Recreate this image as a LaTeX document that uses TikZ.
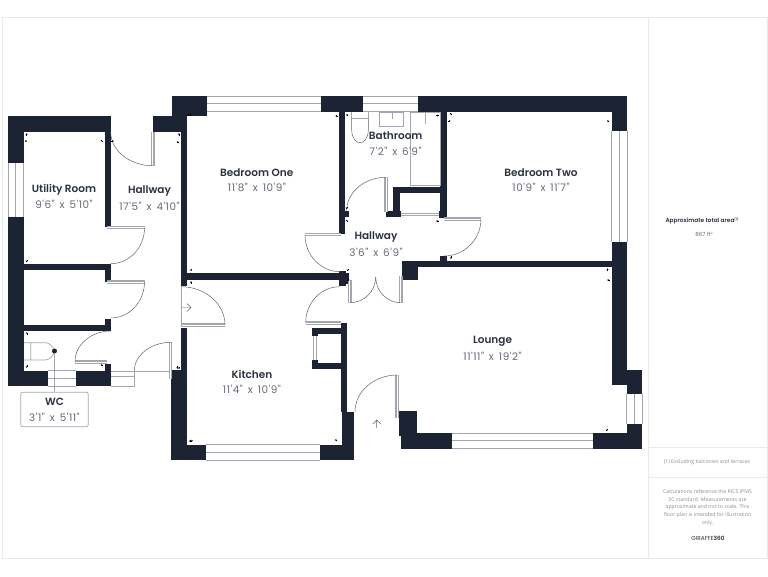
\documentclass[tikz,border=0pt]{standalone}
\usepackage{fontspec}
\newfontfamily\popr{Poppins}
\newfontfamily\popm{Poppins SemiBold}
\newfontfamily\popd{Poppins}[LetterSpace=5,WordSpace=1.5]
\newfontfamily\opens{Open Sans}
\definecolor{wallc}{HTML}{1C2433}
\definecolor{linec}{HTML}{A3A7AD}
\definecolor{framec}{HTML}{E9EAEC}
\definecolor{namec}{HTML}{2A3140}
\definecolor{dimc}{HTML}{636A77}
\definecolor{notec}{HTML}{8A8F98}
\tikzset{
  wallfill/.style={fill=wallc},
  gline/.style={draw=linec,line width=.7pt},
  leaf/.style={draw=linec,line width=1.6pt,double=white,double distance=.6pt,line cap=butt},
  swing/.style={draw=wallc!70,line width=.5pt},
  frameline/.style={draw=framec,line width=.8pt},
  roomname/.style={font=\popm\fontsize{10.5}{12}\selectfont,text=namec,inner sep=0pt,anchor=center,yshift=-.4pt},
  roomdim/.style={font=\popd\fontsize{10.4}{12}\selectfont,text=dimc,inner sep=0pt,anchor=center,yshift=-.8pt},
  note/.style={font=\opens\fontsize{5.2}{7.6}\selectfont,text=notec,align=center,inner sep=0pt,anchor=center}
}
\newcommand\wl[4]{\fill[wallfill] (#1,#2) rectangle (#3,#4);}
\newcommand\winh[3]{\fill[white] (#1,#2) rectangle (#3,#2+15.5);\draw[gline] (#1,#2) -- (#3,#2) (#1,#2+7.5) -- (#3,#2+7.5) (#1,#2+15.5) -- (#3,#2+15.5);}
\newcommand\winv[3]{\fill[white] (#2,#1) rectangle (#2+15.5,#3);\draw[gline] (#2,#1) -- (#2,#3) (#2+7.5,#1) -- (#2+7.5,#3) (#2+15.5,#1) -- (#2+15.5,#3);}
\newcommand\sw[4]{\pgfmathsetmacro\cy{#2+.55*(#4-#2)}\pgfmathsetmacro\cx{#3-.55*(#3-#1)}\draw[swing] (#1,#2) .. controls (#1,\cy) and (\cx,#4) .. (#3,#4);}
\newcommand\tk[3]{\fill[black,shift={(#1,#2)},rotate=#3] (-1,.3) -- (0,-1.2) -- (1,.3) -- cycle;\draw[black,line width=.3pt,shift={(#1,#2)},rotate=#3] (0,0) -- (0,1.4);}
\begin{document}
\begin{tikzpicture}[x=1pt,y=-1pt]
\useasboundingbox (0,0) rectangle (768,576);
\fill[white] (0,0) rectangle (768,576);
% frame
\draw[frameline] (2,17) -- (767,17) -- (767,558) -- (2,558) -- cycle;
\draw[frameline] (648.5,17) -- (648.5,558) (648.5,447) -- (767,447) (648.5,477) -- (767,477);
% walls: utility block
\wl{8}{116}{110.7}{132}
\wl{8}{132}{24}{163}
\winv{163}{8}{217}
\wl{8}{217}{24}{386}
\wl{104.5}{132}{110.7}{227}
\wl{24}{263.7}{110.7}{270}
\wl{104.5}{263.7}{110.7}{281.7}
\wl{24}{325}{110.7}{331}
\wl{104.5}{318.5}{110.7}{331}
\wl{104.5}{364}{110.7}{386}
\wl{24}{370.7}{47.5}{386}
\winh{47.5}{370.7}{75.5}
\wl{75.5}{370.7}{110.7}{386}
\fill[white] (110.7,371) rectangle (134,386);
\draw[gline] (110.7,371.5) -- (171,371.5) (110.7,376.7) -- (134,376.7) (110.7,386) -- (134,386) -- (134,371.5);
% hallway / bedroom one
\wl{153}{116}{186.5}{132}
\wl{172}{96}{207}{116}
\wl{180.7}{132}{186.5}{286}
\winh{207}{96}{320.7}
\wl{320.7}{96}{363}{111.7}
\winh{363}{96}{418.3}
\wl{418.3}{96}{627}{111.7}
\wl{611.7}{111.7}{627}{130.7}
\winv{130.7}{611.7}{241.7}
\wl{611.7}{241.7}{627}{385}
\wl{611.7}{370}{642}{385}
\wl{626.7}{385}{642}{393.5}
\winv{393.5}{626.7}{423.5}
\wl{626.7}{423.5}{642}{448.7}
\wl{180.7}{272.7}{345.7}{280}
\wl{339}{111.7}{345}{233.5}
\wl{339}{210.7}{349}{216.7}
\wl{339}{271}{345.7}{286}
\wl{345}{273}{348.5}{284}
% bathroom
\wl{440}{111.7}{446.7}{218.3}
\wl{438.7}{210.7}{446.7}{218.3}
\wl{393.3}{186.7}{440}{192.7}
\wl{393.3}{186.7}{400}{217}
\wl{386}{211}{401}{217.3}
\wl{440}{255.7}{446.7}{261}
% lounge
\wl{402}{261}{627}{266.7}
\wl{402}{261}{418.3}{280}
\wl{399}{411}{417}{433.3}
\wl{401.3}{433.3}{452}{448.7}
\winh{452}{433.3}{593}
\wl{593}{433.3}{642}{448.7}
\wl{399}{433.3}{417}{436}
% kitchen
\wl{180.7}{327.7}{186.5}{370}
\wl{171}{370}{186.5}{460}
\wl{186.5}{444.5}{205.5}{460}
\winh{205.5}{444.5}{320}
\wl{320}{444.5}{354}{460}
\wl{340.7}{323}{346.5}{412}
\wl{342}{411.7}{354}{444.5}
\wl{311.7}{327.5}{340.7}{334}
\wl{311.7}{327.5}{318}{336}
\wl{311.7}{362.7}{340.7}{369}
\wl{311.7}{360}{318}{369}
\draw[gline] (313.3,336) -- (313.3,360) (316.5,336) -- (316.5,360);
% door leaves
\draw[leaf] (152.7,132) -- (152.7,165.7);
\draw[leaf] (107,227.5) -- (144.5,227.5);
\draw[leaf] (107,282) -- (144.5,282);
\draw[leaf] (75,362) -- (107,362);
\draw[leaf] (170.5,342.3) -- (170.5,379);
\draw[leaf] (181,325) -- (225,325);
\draw[leaf] (305.7,323) -- (341,323);
\draw[leaf] (305,234.5) -- (341,234.5);
\draw[leaf] (386,177.3) -- (386,212);
\draw[leaf] (444,219) -- (481,219);
\draw[leaf] (349.7,280) -- (349.7,303);
\draw[leaf] (400.7,276) -- (400.7,303);
\draw[leaf] (397.3,375) -- (397.3,418);
\draw[leaf] (401,214.5) -- (439,214.5);
% swings
\sw{110.7}{132}{152.7}{165.7}
\sw{144.5}{228}{110.7}{263.7}
\sw{144.5}{282}{110.7}{318}
\sw{75}{361.7}{110.7}{331}
\sw{134.3}{371}{171}{342.3}
\sw{225}{325}{181}{286.7}
\sw{305.7}{322.7}{339.5}{286.7}
\sw{305}{235}{340}{271.7}
\sw{346.7}{210.7}{386}{177.3}
\sw{481}{219}{444}{256}
\sw{375.7}{277}{350}{302.7}
\sw{375.7}{277}{400.7}{302.7}
\sw{355}{411.7}{397.3}{375}
% thresholds
\draw[gline] (181,286) -- (181,327);
% arrows
\draw[swing,line width=.45pt] (181,307.5) -- (191,307.5) (187,303.5) -- (191,307.5) -- (187,311.5);
\draw[swing,line width=.45pt] (376.7,428) -- (376.7,420) (372.7,424) -- (376.7,420) -- (380.7,424);
% fittings
\draw[gline] (410,112) rectangle (440,185.7) (425,112) -- (425,124);
\draw[gline,line width=1.1pt] (379.8,112) rectangle (403.6,126.3);
\draw[gline] (392,112) -- (392,119);
\draw[gline] (351.7,111.7) -- (351.7,118.7) -- (368.3,118.7) -- (368.3,111.7);
\draw[swing] (351.7,118.7) -- (351.7,130) .. controls (351.7,138) and (356,142.7) .. (360,142.7) .. controls (364,142.7) and (368.3,138) .. (368.3,130) -- (368.3,118.7);
\draw[gline] (24,342.7) -- (45,342.7) .. controls (50,342.7) and (53,347) .. (54.5,351) .. controls (53,356) and (50,360) .. (45,360) -- (24,360) (30.7,342.7) -- (30.7,360);
% ticks
\tk{26.5}{134.5}{0}\tk{26}{141}{270}\tk{101.7}{140.7}{90}\tk{112.7}{141}{270}
\tk{179}{134.3}{0}\tk{177.7}{142}{90}\tk{188.3}{115}{270}\tk{190.5}{114.5}{0}
\tk{26.7}{261}{180}\tk{26.7}{333.3}{0}\tk{26.7}{366.7}{180}\tk{101.7}{365}{90}\tk{179}{368}{180}
\tk{336.5}{116}{90}\tk{191}{270}{180}\tk{191}{282.3}{0}\tk{346.7}{208}{180}\tk{346.7}{220.7}{0}
\tk{347.7}{270}{180}\tk{348.5}{280}{270}\tk{347}{115}{0}\tk{437.3}{115.5}{90}\tk{450.7}{114}{0}\tk{449.3}{121}{270}
\tk{437.3}{221}{90}\tk{451}{257.7}{180}\tk{191.7}{440.7}{270}\tk{190}{441}{180}\tk{336}{440}{90}\tk{177.3}{367.7}{180}
\tk{608}{121}{90}\tk{607.5}{269.5}{0}\tk{608.3}{280}{90}\tk{606.7}{430}{180}
% labels
\node[roomname] (uname) at (64,189) {Utility Room};
\node[roomdim] (udim) at (64,204) {9'6" x 5'10"};
\node[roomname] (hname) at (149.5,191) {Hallway};
\node[roomdim] (hdim) at (149.5,206) {17'5" x 4'10"};
\node[roomname] (bname) at (256.7,172) {Bedroom One};
\node[roomdim] (bdim) at (257,187) {11'8" x 10'9"};
\node[roomname] (baname) at (395.7,135.5) {Bathroom};
\node[roomdim] (badim) at (395.5,150.5) {7'2" x 6'9"};
\node[roomname] (h2name) at (376,237) {Hallway};
\node[roomdim] (h2dim) at (376,252) {3'6" x 6'9"};
\node[roomname] (b2name) at (541,172) {Bedroom Two};
\node[roomdim] (b2dim) at (541,187) {10'9" x 11'7"};
\node[roomname] (kname) at (252,374) {Kitchen};
\node[roomdim] (kdim) at (252,389) {11'4" x 10'9"};
\node[roomname] (lname) at (492.5,341) {Lounge};
\node[roomdim] (ldim) at (492.5,355.5) {11'11" x 19'2"};
% WC callout
\node[circle,fill=wallc,inner sep=0pt,minimum size=5pt] (wcdot) at (54.5,351) {};
\node[draw=linec,line width=.7pt,rounded corners=2pt,fill=white,minimum width=67.5pt,minimum height=34.5pt,inner sep=0pt] (wcbox) at (54.5,409.5) {};
\draw[gline] (wcdot) -- (wcbox);
\node[roomname] (wcname) at (54.5,401.5) {WC};
\node[roomdim] (wcdim) at (54.5,417) {3'1" x 5'11"};
% side panel
\node[font=\popm\fontsize{5.8}{7}\selectfont,text=namec,inner sep=0pt] (area) at (702,220.5) {Approximate total area\raisebox{1.6pt}{\fontsize{3}{3}\selectfont(1)}};
\node[font=\popr\fontsize{5.6}{7}\selectfont,text=dimc,inner sep=0pt] (areav) at (704,234) {867 ft\raisebox{1.6pt}{\fontsize{3}{3}\selectfont 2}};
\node[note] (foot) at (707,462) {(1) Excluding balconies and terraces};
\node[note] (calc) at (707.5,507.5) {Calculations reference the RICS IPMS\\3C standard. Measurements are\\approximate and not to scale. This\\floor plan is intended for illustration\\only.};
\node[font=\popr\fontsize{5.8}{7}\selectfont,text=namec,inner sep=0pt] (brand) at (708,538) {GIRAFFE{\popm 360}};
\end{tikzpicture}
\end{document}
